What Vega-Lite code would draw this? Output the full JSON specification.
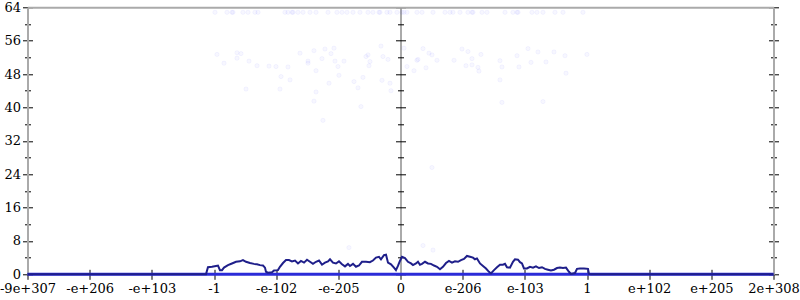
{
  "$schema": "https://vega.github.io/schema/vega-lite/v6.json",
  "width": 746,
  "height": 267,
  "autosize": "none",
  "padding": {"left": 27.5, "top": 7.3, "right": 26.5, "bottom": 25.7},
  "background": "white",
  "config": {
    "view": {"stroke": null},
    "axis": {"labelFont": "DejaVu Serif", "labelFontSize": 13, "labelColor": "black", "title": null, "tickColor": "black", "tickWidth": 1}
  },
  "datasets": {
    "series": [
      {"x": 0, "err": 0, "base": 0}, {"x": 2.871, "err": 0, "base": 0}, {"x": 2.903, "err": 1.7, "base": 0},
      {"x": 2.968, "err": 1.8, "base": 0}, {"x": 3.032, "err": 2.0, "base": 0}, {"x": 3.064, "err": 2.1, "base": 0},
      {"x": 3.096, "err": 1.0, "base": 0}, {"x": 3.129, "err": 1.0, "base": 0}, {"x": 3.161, "err": 1.6, "base": 0},
      {"x": 3.225, "err": 2.2, "base": 0}, {"x": 3.289, "err": 2.6, "base": 0}, {"x": 3.354, "err": 3.0, "base": 0},
      {"x": 3.418, "err": 3.1, "base": 0}, {"x": 3.466, "err": 3.4, "base": 0}, {"x": 3.515, "err": 3.0, "base": 0},
      {"x": 3.579, "err": 2.7, "base": 0}, {"x": 3.643, "err": 2.5, "base": 0}, {"x": 3.692, "err": 2.4, "base": 0},
      {"x": 3.740, "err": 2.2, "base": 0}, {"x": 3.788, "err": 2.1, "base": 0}, {"x": 3.820, "err": 1.6, "base": 0},
      {"x": 3.836, "err": 0.6, "base": 0}, {"x": 3.868, "err": 0.4, "base": 0}, {"x": 3.933, "err": 0.5, "base": 0},
      {"x": 3.965, "err": 0.9, "base": 0}, {"x": 4.029, "err": 1.0, "base": 0}, {"x": 4.061, "err": 1.8, "base": 0},
      {"x": 4.110, "err": 2.7, "base": 0}, {"x": 4.158, "err": 3.4, "base": 0}, {"x": 4.206, "err": 3.4, "base": 0},
      {"x": 4.254, "err": 3.1, "base": 0}, {"x": 4.303, "err": 3.3, "base": 0}, {"x": 4.351, "err": 2.6, "base": 0},
      {"x": 4.399, "err": 3.2, "base": 0}, {"x": 4.448, "err": 2.8, "base": 0}, {"x": 4.496, "err": 3.5, "base": 0},
      {"x": 4.544, "err": 3.0, "base": 0}, {"x": 4.592, "err": 2.5, "base": 0}, {"x": 4.641, "err": 3.0, "base": 0},
      {"x": 4.689, "err": 3.3, "base": 0}, {"x": 4.737, "err": 2.3, "base": 0}, {"x": 4.785, "err": 2.8, "base": 0},
      {"x": 4.834, "err": 3.1, "base": 0}, {"x": 4.866, "err": 3.6, "base": 0}, {"x": 4.914, "err": 2.8, "base": 0},
      {"x": 4.962, "err": 2.6, "base": 0}, {"x": 5.010, "err": 3.1, "base": 0}, {"x": 5.059, "err": 2.4, "base": 0},
      {"x": 5.107, "err": 1.9, "base": 0}, {"x": 5.155, "err": 2.5, "base": 0}, {"x": 5.187, "err": 2.0, "base": 0},
      {"x": 5.236, "err": 2.5, "base": 0}, {"x": 5.284, "err": 1.8, "base": 0}, {"x": 5.332, "err": 2.1, "base": 0},
      {"x": 5.380, "err": 3.0, "base": 0}, {"x": 5.445, "err": 3.0, "base": 0}, {"x": 5.507, "err": 2.9, "base": 0},
      {"x": 5.557, "err": 3.3, "base": 0}, {"x": 5.606, "err": 4.0, "base": 0}, {"x": 5.654, "err": 4.2, "base": 0},
      {"x": 5.686, "err": 3.6, "base": 0}, {"x": 5.734, "err": 4.6, "base": 0}, {"x": 5.767, "err": 4.7, "base": 0},
      {"x": 5.799, "err": 2.8, "base": 0}, {"x": 5.847, "err": 2.4, "base": 0}, {"x": 5.895, "err": 1.6, "base": 0},
      {"x": 5.927, "err": 1.0, "base": 0}, {"x": 5.959, "err": 2.0, "base": 0}, {"x": 5.991, "err": 3.2, "base": 0},
      {"x": 6.024, "err": 4.2, "base": 0}, {"x": 6.072, "err": 3.9, "base": 0}, {"x": 6.120, "err": 3.0, "base": 0},
      {"x": 6.169, "err": 2.6, "base": 0}, {"x": 6.201, "err": 2.2, "base": 0}, {"x": 6.249, "err": 2.6, "base": 0},
      {"x": 6.281, "err": 3.0, "base": 0}, {"x": 6.313, "err": 2.3, "base": 0}, {"x": 6.346, "err": 2.5, "base": 0},
      {"x": 6.394, "err": 3.0, "base": 0}, {"x": 6.442, "err": 2.6, "base": 0}, {"x": 6.490, "err": 2.5, "base": 0},
      {"x": 6.539, "err": 2.1, "base": 0}, {"x": 6.587, "err": 1.8, "base": 0}, {"x": 6.635, "err": 1.2, "base": 0},
      {"x": 6.683, "err": 1.8, "base": 0}, {"x": 6.732, "err": 2.7, "base": 0}, {"x": 6.780, "err": 3.2, "base": 0},
      {"x": 6.828, "err": 2.8, "base": 0}, {"x": 6.876, "err": 3.1, "base": 0}, {"x": 6.925, "err": 3.0, "base": 0},
      {"x": 6.973, "err": 3.4, "base": 0}, {"x": 7.021, "err": 3.7, "base": 0}, {"x": 7.069, "err": 4.4, "base": 0},
      {"x": 7.118, "err": 4.2, "base": 0}, {"x": 7.166, "err": 4.0, "base": 0}, {"x": 7.198, "err": 3.6, "base": 0},
      {"x": 7.230, "err": 3.8, "base": 0}, {"x": 7.279, "err": 2.6, "base": 0}, {"x": 7.327, "err": 2.0, "base": 0},
      {"x": 7.375, "err": 1.4, "base": 0}, {"x": 7.423, "err": 0.6, "base": 0}, {"x": 7.455, "err": 0.2, "base": 0},
      {"x": 7.504, "err": 1.0, "base": 0}, {"x": 7.552, "err": 1.7, "base": 0}, {"x": 7.600, "err": 2.3, "base": 0},
      {"x": 7.648, "err": 2.3, "base": 0}, {"x": 7.681, "err": 2.5, "base": 0}, {"x": 7.713, "err": 1.7, "base": 0},
      {"x": 7.761, "err": 1.6, "base": 0}, {"x": 7.809, "err": 3.0, "base": 0}, {"x": 7.841, "err": 3.6, "base": 0},
      {"x": 7.890, "err": 3.5, "base": 0}, {"x": 7.922, "err": 2.9, "base": 0}, {"x": 7.954, "err": 2.6, "base": 0},
      {"x": 7.986, "err": 1.4, "base": 0}, {"x": 8.034, "err": 1.4, "base": 0}, {"x": 8.083, "err": 1.8, "base": 0},
      {"x": 8.131, "err": 1.6, "base": 0}, {"x": 8.179, "err": 1.9, "base": 0}, {"x": 8.228, "err": 1.5, "base": 0},
      {"x": 8.276, "err": 1.7, "base": 0}, {"x": 8.324, "err": 1.3, "base": 0}, {"x": 8.372, "err": 1.1, "base": 0},
      {"x": 8.420, "err": 0.9, "base": 0}, {"x": 8.469, "err": 1.1, "base": 0}, {"x": 8.517, "err": 1.5, "base": 0},
      {"x": 8.565, "err": 1.6, "base": 0}, {"x": 8.614, "err": 1.5, "base": 0}, {"x": 8.662, "err": 1.6, "base": 0},
      {"x": 8.710, "err": 0.6, "base": 0}, {"x": 8.742, "err": 0.1, "base": 0}, {"x": 8.774, "err": 0.2, "base": 0},
      {"x": 8.807, "err": 0.3, "base": 0}, {"x": 8.839, "err": 1.3, "base": 0}, {"x": 8.887, "err": 1.4, "base": 0},
      {"x": 8.951, "err": 1.4, "base": 0}, {"x": 9.016, "err": 1.3, "base": 0}, {"x": 9.032, "err": 0.1, "base": 0},
      {"x": 9.064, "err": 0, "base": 0}, {"x": 12, "err": 0, "base": 0}
    ],
    "samples": [
      {"x": 3.016, "err": 62.8}, {"x": 3.209, "err": 62.8}, {"x": 3.289, "err": 62.8}, {"x": 3.305, "err": 62.8},
      {"x": 3.466, "err": 62.8}, {"x": 3.547, "err": 62.8}, {"x": 3.659, "err": 62.8}, {"x": 3.708, "err": 62.8},
      {"x": 4.142, "err": 62.8}, {"x": 4.190, "err": 62.8}, {"x": 4.255, "err": 62.8}, {"x": 4.271, "err": 62.8},
      {"x": 4.351, "err": 62.8}, {"x": 4.432, "err": 62.8}, {"x": 4.544, "err": 62.8}, {"x": 4.641, "err": 62.8},
      {"x": 4.834, "err": 62.8}, {"x": 4.978, "err": 62.8}, {"x": 5.059, "err": 62.8}, {"x": 5.139, "err": 62.8},
      {"x": 5.236, "err": 62.8}, {"x": 5.348, "err": 62.8}, {"x": 5.477, "err": 62.8}, {"x": 5.557, "err": 62.8},
      {"x": 5.654, "err": 62.8}, {"x": 5.670, "err": 62.8}, {"x": 5.782, "err": 62.8}, {"x": 5.831, "err": 62.8},
      {"x": 5.943, "err": 62.8}, {"x": 6.024, "err": 62.8}, {"x": 6.056, "err": 62.8}, {"x": 6.104, "err": 62.8},
      {"x": 6.265, "err": 62.8}, {"x": 6.346, "err": 62.8}, {"x": 6.523, "err": 62.8}, {"x": 6.716, "err": 62.8},
      {"x": 6.796, "err": 62.8}, {"x": 6.844, "err": 62.8}, {"x": 6.957, "err": 62.8}, {"x": 7.085, "err": 62.8},
      {"x": 7.150, "err": 62.8}, {"x": 7.166, "err": 62.8}, {"x": 7.311, "err": 62.8}, {"x": 7.391, "err": 62.8},
      {"x": 7.681, "err": 62.8}, {"x": 7.809, "err": 62.8}, {"x": 7.874, "err": 62.8}, {"x": 7.890, "err": 62.8},
      {"x": 8.115, "err": 62.8}, {"x": 8.195, "err": 62.8}, {"x": 8.292, "err": 62.8}, {"x": 8.485, "err": 62.8},
      {"x": 8.614, "err": 62.8}, {"x": 8.935, "err": 62.8},
      {"x": 3.048, "err": 52.7}, {"x": 3.161, "err": 50.6}, {"x": 3.370, "err": 53.1}, {"x": 3.370, "err": 51.8},
      {"x": 3.434, "err": 52.9}, {"x": 3.515, "err": 44.4}, {"x": 3.563, "err": 51.1}, {"x": 3.692, "err": 50.0},
      {"x": 3.885, "err": 49.9}, {"x": 3.997, "err": 49.8}, {"x": 4.078, "err": 47.4}, {"x": 4.061, "err": 44.4},
      {"x": 4.190, "err": 49.7}, {"x": 4.223, "err": 46.6}, {"x": 4.383, "err": 53.0}, {"x": 4.512, "err": 51.1},
      {"x": 4.512, "err": 50.6}, {"x": 4.608, "err": 53.6}, {"x": 4.641, "err": 48.8}, {"x": 4.641, "err": 43.7},
      {"x": 4.608, "err": 41.5}, {"x": 4.737, "err": 51.7}, {"x": 4.753, "err": 36.9}, {"x": 4.785, "err": 54.0},
      {"x": 4.882, "err": 52.9}, {"x": 4.930, "err": 54.2}, {"x": 4.946, "err": 51.1}, {"x": 4.994, "err": 49.8},
      {"x": 5.010, "err": 47.7}, {"x": 4.850, "err": 45.8}, {"x": 5.091, "err": 51.1}, {"x": 5.252, "err": 46.2},
      {"x": 5.316, "err": 44.7}, {"x": 5.364, "err": 40.2}, {"x": 5.396, "err": 47.2}, {"x": 5.445, "err": 52.2},
      {"x": 5.477, "err": 52.6}, {"x": 5.509, "err": 51.0}, {"x": 5.493, "err": 50.0}, {"x": 5.686, "err": 54.7},
      {"x": 5.718, "err": 52.2}, {"x": 5.702, "err": 46.5}, {"x": 5.799, "err": 51.5}, {"x": 5.831, "err": 45.8},
      {"x": 5.847, "err": 44.0}, {"x": 6.056, "err": 54.2}, {"x": 6.104, "err": 49.8}, {"x": 6.217, "err": 48.8},
      {"x": 6.265, "err": 51.3}, {"x": 6.281, "err": 51.5}, {"x": 6.362, "err": 54.1}, {"x": 6.410, "err": 49.5},
      {"x": 6.458, "err": 53.0}, {"x": 6.506, "err": 52.6}, {"x": 6.587, "err": 51.3}, {"x": 6.861, "err": 51.3},
      {"x": 6.989, "err": 54.0}, {"x": 7.053, "err": 50.0}, {"x": 7.085, "err": 53.4}, {"x": 7.150, "err": 51.7},
      {"x": 7.150, "err": 50.2}, {"x": 7.246, "err": 49.6}, {"x": 7.262, "err": 48.7}, {"x": 7.294, "err": 52.7},
      {"x": 7.600, "err": 51.2}, {"x": 7.600, "err": 46.6}, {"x": 7.632, "err": 49.7}, {"x": 7.632, "err": 41.2},
      {"x": 7.874, "err": 52.4}, {"x": 7.906, "err": 49.7}, {"x": 8.051, "err": 54.1}, {"x": 8.099, "err": 50.8},
      {"x": 8.211, "err": 53.3}, {"x": 8.292, "err": 41.4}, {"x": 8.340, "err": 50.9}, {"x": 8.469, "err": 53.3},
      {"x": 8.646, "err": 52.4}, {"x": 8.662, "err": 48.2}, {"x": 8.999, "err": 52.7},
      {"x": 6.506, "err": 25.6}, {"x": 6.362, "err": 6.9}, {"x": 6.523, "err": 5.8}, {"x": 5.171, "err": 6.4}
    ]
  },
  "resolve": {"axis": {"x": "independent", "y": "independent"}},
  "layer": [
    {
      "data": {"name": "samples"},
      "mark": {"type": "point", "shape": "circle", "size": 18, "fill": "#0000ff", "fillOpacity": 0.03, "stroke": "#0000ff", "strokeOpacity": 0.045, "strokeWidth": 1},
      "encoding": {
        "x": {"field": "x", "type": "quantitative", "scale": {"domain": [0, 12], "nice": false, "zero": false}, "axis": null},
        "y": {"field": "err", "type": "quantitative", "scale": {"domain": [0, 64], "nice": false}, "axis": null}
      }
    },
    {
      "data": {"name": "series"},
      "mark": {"type": "line", "color": "#2b2bd8", "strokeWidth": 3, "clip": false},
      "encoding": {
        "x": {"field": "x", "type": "quantitative",
          "axis": {"orient": "bottom", "values": [0, 1, 2, 3, 4, 5, 6, 7, 8, 9, 10, 11, 12],
            "labelExpr": "['-9e+307','-e+206','-e+103','-1','-e-102','-e-205','0','e-206','e-103','1','e+102','e+205','2e+308'][datum.value]",
            "labelOverlap": false, "labelFlush": false, "labelBound": false, "labelPadding": 3,
            "tickSize": 5, "domain": false,
            "grid": true, "gridColor": "black", "gridWidth": 1, "gridOpacity": 1, "gridDash": [0, 262, 5]}},
        "y": {"field": "base", "type": "quantitative",
          "axis": {"orient": "left", "values": [0, 4, 8, 12, 16, 20, 24, 28, 32, 36, 40, 44, 48, 52, 56, 60, 64],
            "labelExpr": "datum.value % 8 === 0 ? datum.label : ''",
            "labelPadding": 2, "labelOverlap": false,
            "tickSize": {"condition": {"test": "datum.value % 8 === 0", "value": 5}, "value": 3},
            "domain": true, "domainColor": "#aaaaaa", "domainWidth": 2,
            "grid": true, "gridColor": "black", "gridWidth": 1, "gridOpacity": 1,
            "gridDash": {"condition": {"test": "datum.value % 8 === 0", "value": [5, 363, 10, 363, 5]}, "value": [3, 367, 6, 367, 3]}}}
      }
    },
    {
      "data": {"name": "series"},
      "mark": {"type": "line", "color": "#1f1f8a", "strokeWidth": 2, "clip": false},
      "encoding": {
        "x": {"field": "x", "type": "quantitative",
          "axis": {"orient": "top", "values": [6], "labels": false, "ticks": false,
            "domain": true, "domainColor": "#aaaaaa", "domainWidth": 2,
            "grid": true, "gridColor": "#aaaaaa", "gridWidth": 2, "gridOpacity": 1}},
        "y": {"field": "err", "type": "quantitative",
          "axis": {"orient": "right", "values": [0, 4, 8, 12, 16, 20, 24, 28, 32, 36, 40, 44, 48, 52, 56, 60, 64],
            "labels": false,
            "tickSize": {"condition": {"test": "datum.value % 8 === 0", "value": 5}, "value": 3},
            "domain": true, "domainColor": "#aaaaaa", "domainWidth": 2, "grid": false}}
      }
    }
  ]
}
